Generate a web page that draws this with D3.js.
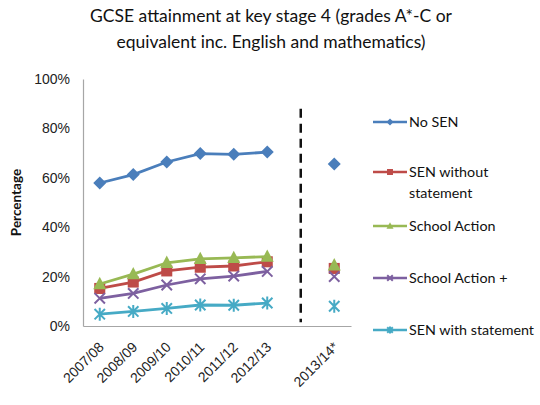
<!DOCTYPE html>
<html>
<head>
<meta charset="utf-8">
<script src="https://cdn.jsdelivr.net/npm/d3@7"></script>
<style>
  body { margin: 0; background: #fff; }
  svg { font-family: Lato, "Open Sans", sans-serif; }
</style>
</head>
<body>
<div id="chart"></div>
<script>
// categories
const years = ["2007/08", "2008/09", "2009/10", "2010/11", "2011/12", "2012/13"];
const gapKey = "gap";
const projYear = "2013/14*";

// series values (%), last value is 2013/14*
const noSen = [57.9, 61.3, 66.4, 69.8, 69.5, 70.4, 65.6];
const senWithout = [15.2, 17.8, 22.3, 23.8, 24.3, 26.0, 23.3];
const schoolAction = [17.0, 21.0, 25.6, 27.2, 27.6, 28.1, 24.6];
const schoolActionPlus = [11.2, 13.2, 16.6, 19.1, 20.2, 22.1, 20.0];
const senWith = [4.8, 5.9, 7.1, 8.5, 8.4, 9.3, 8.0];

const yTicks = [0, 20, 40, 60, 80, 100];

const series = [
  { name: ["No SEN"], values: noSen, color: "#4a7ebb", marker: "diamond" },
  { name: ["SEN without", "statement"], values: senWithout, color: "#be4b48", marker: "square" },
  { name: ["School Action"], values: schoolAction, color: "#98b954", marker: "triangle" },
  { name: ["School Action +"], values: schoolActionPlus, color: "#7d60a0", marker: "x" },
  { name: ["SEN with statement"], values: senWith, color: "#46aac5", marker: "star" }
];

const width = 540, height = 405;
const margin = { top: 79, bottom: 79, left: 83, right: 189 };

const svg = d3.select("#chart").append("svg")
  .attr("width", width)
  .attr("height", height);

const xScale = d3.scaleBand()
  .domain([...years, gapKey, projYear])
  .range([margin.left, width - margin.right]);

const yScale = d3.scaleLinear()
  .domain([0, 100])
  .range([height - margin.bottom, margin.top]);

const cx = d => xScale(d) + xScale.bandwidth() / 2;
const allCats = [...years, projYear];

// title
svg.append("text")
  .attr("x", 271).attr("y", 22)
  .attr("text-anchor", "middle")
  .attr("font-size", 17.5)
  .attr("fill", "#111")
  .selectAll("tspan")
  .data(["GCSE attainment at key stage 4 (grades A*-C or", "equivalent inc. English and mathematics)"])
  .join("tspan")
  .attr("x", 271)
  .attr("dy", (d, i) => i ? 26 : 0)
  .text(d => d);

// axes
const yAxis = d3.axisLeft(yScale).tickValues(yTicks).tickSize(0).tickPadding(13).tickFormat(d => d + "%");
const gy = svg.append("g")
  .attr("transform", `translate(${margin.left},0)`)
  .call(yAxis);
gy.select(".domain").attr("stroke", "#a6a6a6").attr("stroke-width", 1.2);
gy.selectAll("text").attr("font-size", 14).attr("fill", "#222");

const xAxis = d3.axisBottom(xScale).tickValues(allCats).tickSize(0).tickPadding(0);
const gx = svg.append("g")
  .attr("transform", `translate(0,${height - margin.bottom})`)
  .call(xAxis);
gx.select(".domain").attr("stroke", "#a6a6a6").attr("stroke-width", 1.2);
gx.selectAll("text")
  .attr("font-size", 14)
  .attr("fill", "#222")
  .attr("text-anchor", "end")
  .attr("dy", null)
  .attr("y", 0)
  .attr("transform", "translate(5,22) rotate(-45)");

svg.append("text")
  .attr("transform", `translate(21,${(margin.top + height - margin.bottom) / 2}) rotate(-90)`)
  .attr("text-anchor", "middle")
  .attr("font-size", 13.5)
  .attr("font-weight", "bold")
  .attr("fill", "#111")
  .text("Percentage");

// dashed divider
svg.append("line")
  .attr("x1", cx(gapKey)).attr("x2", cx(gapKey))
  .attr("y1", yScale(88)).attr("y2", yScale(1.5))
  .attr("stroke", "#111")
  .attr("stroke-width", 2.5)
  .attr("stroke-dasharray", "9,6");

// markers
function drawMarker(g, type, color, s) {
  if (type === "diamond") {
    g.append("path").attr("d", `M0,${-s}L${s},0L0,${s}L${-s},0Z`).attr("fill", color);
  } else if (type === "square") {
    const h = s * 0.85;
    g.append("rect").attr("x", -h).attr("y", -h).attr("width", 2 * h).attr("height", 2 * h).attr("fill", color);
  } else if (type === "triangle") {
    g.append("path").attr("d", `M0,${-s * 1.1}L${s},${s * 0.8}L${-s},${s * 0.8}Z`).attr("fill", color);
  } else if (type === "x") {
    const h = s * 0.8;
    g.append("path").attr("d", `M${-h},${-h}L${h},${h}M${-h},${h}L${h},${-h}`)
      .attr("stroke", color).attr("stroke-width", 2).attr("fill", "none");
  } else if (type === "star") {
    const h = s * 0.8;
    g.append("path").attr("d", `M${-h},${-h}L${h},${h}M${-h},${h}L${h},${-h}M0,${-s}L0,${s}`)
      .attr("stroke", color).attr("stroke-width", 2).attr("fill", "none");
  }
}

const line = d3.line()
  .x((d, i) => cx(years[i]))
  .y(d => yScale(d));

series.forEach(s => {
  svg.append("path")
    .datum(s.values.slice(0, years.length))
    .attr("d", line)
    .attr("fill", "none")
    .attr("stroke", s.color)
    .attr("stroke-width", 2.8);

  s.values.forEach((v, i) => {
    const g = svg.append("g")
      .attr("transform", `translate(${cx(allCats[i])},${yScale(v)})`);
    drawMarker(g, s.marker, s.color, 6.5);
  });
});

// legend
const legendY = [122, 172, 226, 278, 330];
series.forEach((s, i) => {
  const g = svg.append("g").attr("transform", `translate(373,${legendY[i]})`);
  g.append("line").attr("x1", 0).attr("x2", 34).attr("stroke", s.color).attr("stroke-width", 2.5);
  const m = g.append("g").attr("transform", "translate(17,0)");
  drawMarker(m, s.marker, s.color, 3.5);
  g.append("text")
    .attr("x", 36).attr("y", 5)
    .attr("font-size", 14.3)
    .attr("fill", "#111")
    .selectAll("tspan")
    .data(s.name)
    .join("tspan")
    .attr("x", 36)
    .attr("dy", (d, j) => j ? 21 : 0)
    .text(d => d);
});
</script>
</body>
</html>
